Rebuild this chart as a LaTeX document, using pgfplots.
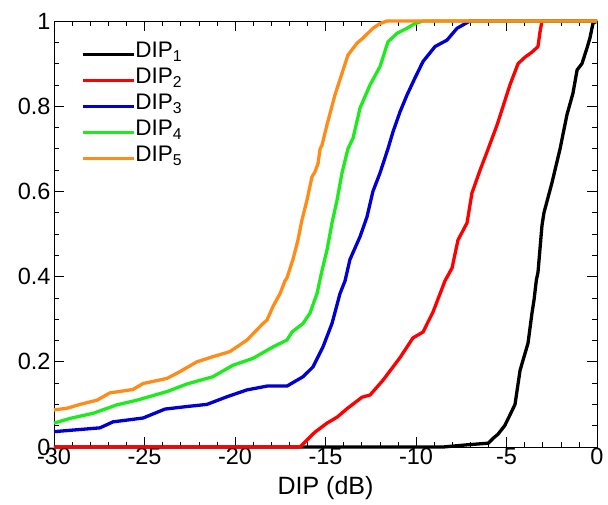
\documentclass[border=0pt]{standalone}
\usepackage{pgfplots}
\pgfplotsset{compat=1.18}
\usepackage{fontspec}
\setmainfont{Liberation Sans}

\definecolor{cBlue}{RGB}{0,0,210}
\definecolor{cGreen}{RGB}{30,235,30}
\definecolor{cOrange}{RGB}{255,140,25}

\begin{document}
\begin{tikzpicture}
\begin{axis}[
  scale only axis,
  width=543pt, height=426pt,
  xmin=-30, xmax=0, ymin=0, ymax=1,
  xtick={-30,-25,...,0},
  ytick={0,0.2,...,1},
  yticklabels={0,0.2,0.4,0.6,0.8,1},
  minor x tick num=4,
  minor y tick num=3,
  tick align=inside,
  major tick length=10pt,
  minor tick length=5pt,
  tick style={black, line width=0.6pt},
  axis line style={black, line width=0.8pt},
  /pgf/number format/assume math mode=true,
  tick label style={font=\fontsize{23.5}{27}\selectfont},
  label style={font=\fontsize{25}{29}\selectfont},
  xlabel={DIP (dB)},
  xlabel style={yshift=-4pt},
  xticklabel style={yshift=2pt},
  every axis plot/.append style={line width=3.3pt, line join=round},
  legend cell align=left,
  legend style={draw=none, fill=none, at={(0.0497,0.952)}, anchor=north west,
    font=\fontsize{22.5}{26}\selectfont, row sep=0pt, inner sep=0pt,
    nodes={inner sep=0pt, text height=16pt, text depth=10pt}},
  legend image code/.code={
    \path (0pt,0pt) -- (51pt,0pt);
    \draw[#1, line width=3.3pt] (0pt,0pt) -- (45pt,0pt);},
  clip=false,
]
% DIP_1
\addplot[black] coordinates {
(-30,0) (-8.5,0) (-7.2,0.005) (-6.0,0.009) (-5.75,0.02) (-5.47,0.03)
(-5.1,0.05) (-4.81,0.075) (-4.53,0.10) (-4.25,0.18) (-3.81,0.244)
(-3.59,0.315) (-3.48,0.345) (-3.35,0.392) (-3.26,0.41) (-3.04,0.52)
(-2.93,0.55) (-2.49,0.62) (-2.04,0.70) (-1.66,0.78) (-1.33,0.83)
(-1.10,0.885) (-0.83,0.90) (-0.55,0.937) (-0.39,0.96) (-0.22,0.995) (0,1)
};
% DIP_2
\addplot[red] coordinates {
(-30,0) (-16.41,0) (-15.58,0.035) (-14.92,0.056) (-14.36,0.07)
(-13.81,0.09) (-12.98,0.117) (-12.54,0.122) (-11.82,0.157)
(-10.88,0.21) (-10.17,0.256) (-9.61,0.27) (-9.06,0.317) (-8.67,0.36)
(-8.40,0.39) (-8.01,0.42) (-7.68,0.486) (-7.18,0.526) (-6.91,0.596)
(-6.46,0.65) (-6.10,0.69) (-5.52,0.756) (-4.81,0.85) (-4.36,0.90)
(-3.98,0.915) (-3.59,0.927) (-3.26,0.94) (-3.15,0.974) (-3.04,1.0) (0,1)
};
% DIP_3
\addplot[cBlue] coordinates {
(-30,0.036) (-27.46,0.045) (-26.74,0.059) (-25.08,0.068) (-23.87,0.089)
(-22.65,0.095) (-21.55,0.10) (-20.44,0.118) (-19.34,0.134) (-18.23,0.143)
(-17.13,0.143) (-16.24,0.165) (-15.69,0.188) (-15.14,0.235)
(-14.64,0.29) (-14.20,0.36) (-13.92,0.39) (-13.65,0.44) (-13.09,0.494)
(-12.71,0.54) (-12.38,0.60) (-11.99,0.643) (-11.55,0.70) (-11.27,0.74)
(-10.88,0.787) (-10.50,0.826) (-10.06,0.866) (-9.61,0.905) (-8.95,0.94)
(-8.29,0.955) (-7.73,0.983) (-7.02,1.0) (0,1)
};
% DIP_4
\addplot[cGreen] coordinates {
(-30,0.056) (-29.12,0.067) (-27.85,0.079) (-26.52,0.099) (-25.41,0.11)
(-23.76,0.13) (-22.65,0.148) (-21.22,0.165) (-20.11,0.192)
(-19.01,0.208) (-17.90,0.235) (-17.13,0.251) (-16.85,0.27)
(-16.24,0.29) (-15.86,0.314) (-15.47,0.36) (-15.19,0.415)
(-14.92,0.462) (-14.64,0.526) (-14.36,0.58) (-14.09,0.643)
(-13.76,0.70) (-13.48,0.725) (-13.09,0.796) (-12.54,0.85)
(-11.99,0.893) (-11.55,0.951) (-11.05,0.971) (-10.50,0.983)
(-10.06,0.994) (-9.61,1.0) (0,1)
};
% DIP_5
\addplot[cOrange] coordinates {
(-30,0.087) (-29.28,0.091) (-28.56,0.10) (-27.62,0.11) (-26.91,0.127)
(-25.64,0.135) (-25.08,0.149) (-23.76,0.161) (-23.04,0.177)
(-22.10,0.20) (-21.22,0.212) (-20.28,0.224) (-19.34,0.251)
(-18.45,0.29) (-18.23,0.298) (-17.90,0.33) (-17.51,0.36) (-17.24,0.39)
(-17.13,0.397) (-16.80,0.44) (-16.52,0.486) (-16.30,0.533)
(-16.02,0.58) (-15.75,0.634) (-15.58,0.646) (-15.41,0.666)
(-15.30,0.70) (-15.19,0.709) (-14.92,0.756) (-14.48,0.826)
(-14.09,0.877) (-13.76,0.92) (-13.26,0.948) (-12.93,0.96)
(-12.38,0.983) (-11.99,0.994) (-11.60,1.0) (0,1)
};
\legend{DIP\textsubscript{1},DIP\textsubscript{2},DIP\textsubscript{3},DIP\textsubscript{4},DIP\textsubscript{5}}
\end{axis}
% page extent around the axis box
\pgfresetboundingbox
\path[use as bounding box] (-54pt,-58pt) rectangle (554pt,447pt);
\end{tikzpicture}
\end{document}
